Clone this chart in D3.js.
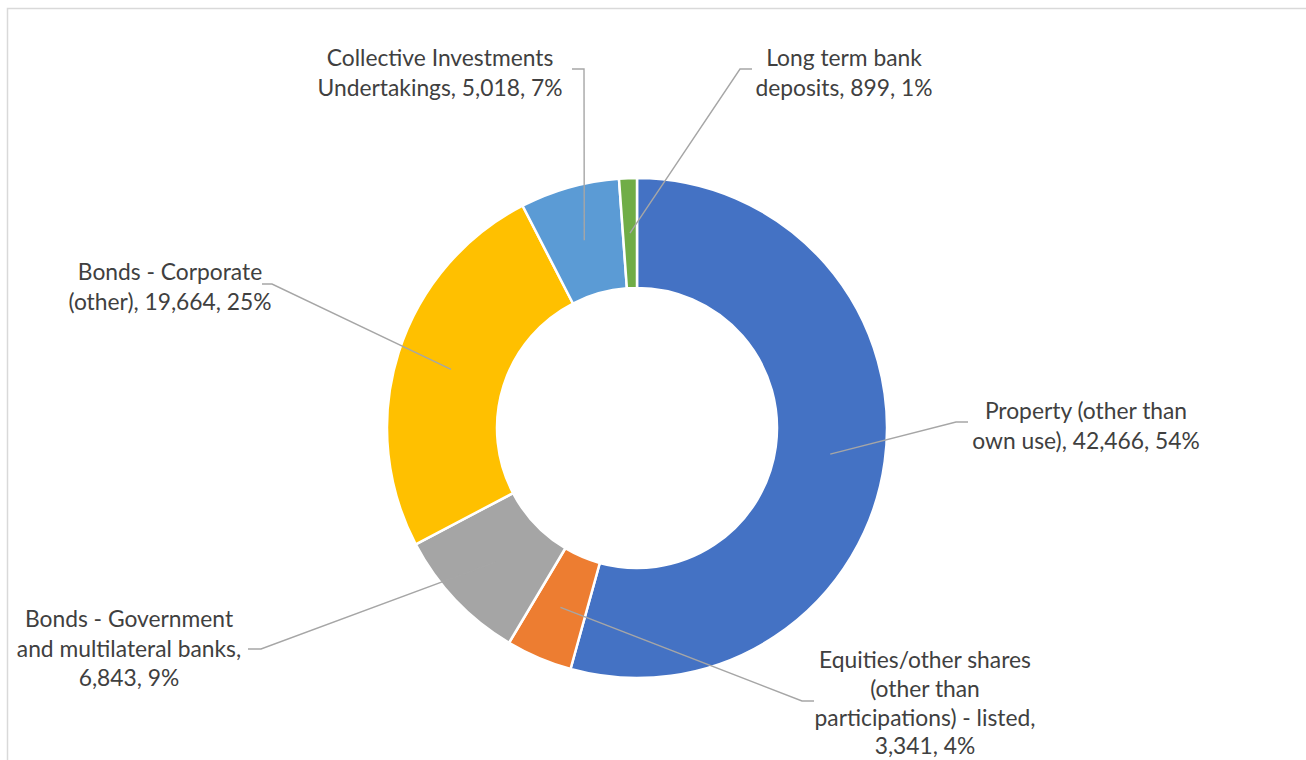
<!DOCTYPE html>
<html>
<head>
<meta charset="utf-8">
<script src="https://cdn.jsdelivr.net/npm/d3@7"></script>
<style>
  html, body { margin: 0; padding: 0; background: #ffffff; }
  svg { display: block; }
</style>
</head>
<body>
<svg id="chart" width="1306" height="760"></svg>
<script>
// Asset categories, drawn clockwise from 12 o'clock
const categories = [
  "Property (other than own use)",
  "Equities/other shares (other than participations) - listed",
  "Bonds - Government and multilateral banks",
  "Bonds - Corporate (other)",
  "Collective Investments Undertakings",
  "Long term bank deposits"
];
const values = [42466, 3341, 6843, 19664, 5018, 899];
const colors = ["#4472C4", "#ED7D31", "#A5A5A5", "#FFC000", "#5B9BD5", "#70AD47"];

// Label text broken into lines ({v} = value, {p} = share)
const labelLines = [
  ["Property (other than", "own use), {v}, {p}"],
  ["Equities/other shares", "(other than", "participations) - listed,", "{v}, {p}"],
  ["Bonds - Government", "and multilateral banks,", "{v}, {p}"],
  ["Bonds - Corporate", "(other), {v}, {p}"],
  ["Collective Investments", "Undertakings, {v}, {p}"],
  ["Long term bank", "deposits, {v}, {p}"]
];

// Label block placement: centre x, first-line centre y, line step, leader elbow/end points
const labelLayout = [
  { x: 1086, y: 410, step: 29.5, elbow: [956, 422], end: [968, 422] },
  { x: 925,  y: 659, step: 28.8, elbow: [802, 701], end: [814, 701] },
  { x: 129,  y: 618, step: 29.5, elbow: [261, 649], end: [248, 649] },
  { x: 170,  y: 271, step: 29.5, elbow: [272, 284], end: [262, 284] },
  { x: 440,  y: 57,  step: 29.5, elbow: [584, 69],  end: [572, 69] },
  { x: 844,  y: 57,  step: 29.5, elbow: [740, 69],  end: [752, 69] }
];

const W = 1306, H = 760;
const cx = 637, cy = 428;
const outerR = 250, innerR = 140;

const svg = d3.select("#chart");

// Chart-area frame
svg.append("rect")
  .attr("x", 7.5).attr("y", 8.5)
  .attr("width", W + 20).attr("height", H + 20)
  .attr("fill", "#ffffff")
  .attr("stroke", "#d9d9d9")
  .attr("stroke-width", 1.5);

const total = d3.sum(values);
const fmt = d3.format(",");

// Whole-number shares that add up to 100 (largest remainder)
const raw = values.map(v => v / total * 100);
const pcts = raw.map(Math.floor);
const short = 100 - d3.sum(pcts);
raw.map((r, i) => [r - Math.floor(r), i])
  .sort((a, b) => b[0] - a[0])
  .slice(0, short)
  .forEach(([, i]) => { pcts[i] += 1; });

const pie = d3.pie().value(d => d).sort(null);
const arcs = pie(values);

const arc = d3.arc().innerRadius(innerR).outerRadius(outerR);
const midArc = d3.arc().innerRadius((innerR + outerR) / 2).outerRadius((innerR + outerR) / 2);

const g = svg.append("g").attr("transform", `translate(${cx},${cy})`);

g.selectAll("path.slice")
  .data(arcs)
  .join("path")
  .attr("class", "slice")
  .attr("d", arc)
  .attr("fill", (d, i) => colors[i])
  .attr("stroke", "#ffffff")
  .attr("stroke-width", 2.5)
  .attr("stroke-linejoin", "round");

// Leader lines: from the ring centre of each slice to its label
svg.append("g").selectAll("polyline")
  .data(arcs)
  .join("polyline")
  .attr("fill", "none")
  .attr("stroke", "#a6a6a6")
  .attr("stroke-width", 1.4)
  .attr("points", (d, i) => {
    const c = midArc.centroid(d);
    const L = labelLayout[i];
    return [[cx + c[0], cy + c[1]], L.elbow, L.end].map(p => p.join(",")).join(" ");
  });

// Data labels
const labels = svg.append("g")
  .attr("font-family", "Lato, 'Open Sans', sans-serif")
  .attr("font-size", 22.8)
  .attr("fill", "#404040")
  .attr("text-anchor", "middle");

arcs.forEach((d, i) => {
  const L = labelLayout[i];
  const t = labels.append("text");
  labelLines[i].forEach((ln, k) => {
    t.append("tspan")
      .attr("x", L.x)
      .attr("y", L.y + k * L.step)
      .attr("dominant-baseline", "central")
      .text(ln.replace("{v}", fmt(values[i])).replace("{p}", pcts[i] + "%"));
  });
});
</script>
</body>
</html>
